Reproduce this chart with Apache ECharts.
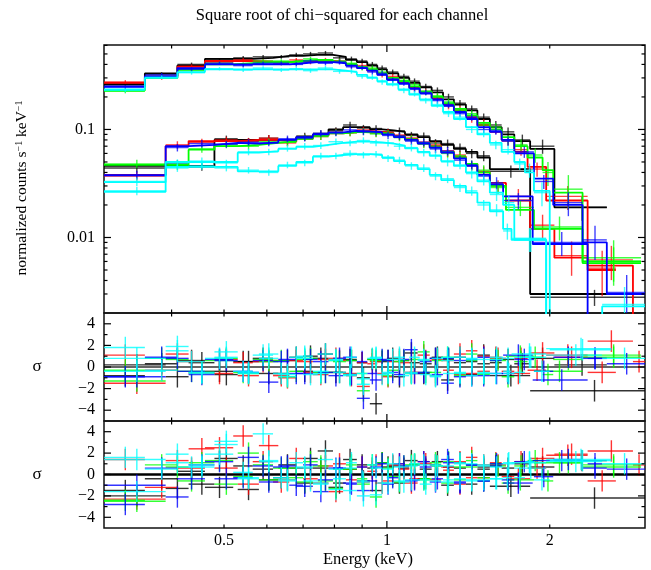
<!DOCTYPE html>
<html><head><meta charset="utf-8">
<script src="https://cdn.jsdelivr.net/npm/echarts@6/dist/echarts.min.js"></script>
<style>html,body{margin:0;padding:0;background:#fff}#c{width:651px;height:570px}</style>
</head><body><div id="c"></div>
<script>
// ---------- bin edges (keV) ----------
const EU = [0.30,0.357,0.41,0.461,0.52,0.565,0.616,0.66,0.70,0.745,0.795,0.84,0.88,0.92,0.96,1.0,1.05,1.10,1.15,1.21,1.27,1.33,1.40,1.47,1.55];
const EL = [0.30,0.39,0.43,0.48,0.53,0.58,0.63,0.68,0.73,0.78,0.83,0.88,0.93,0.98,1.03,1.08,1.14,1.20,1.26,1.33,1.40,1.47,1.55];
const relErrU  = [0.04,0.04,0.04,0.035,0.04,0.04,0.04,0.045,0.045,0.045,0.05,0.05,0.05,0.055,0.055,0.055,0.06,0.06,0.06,0.065,0.07,0.07,0.075,0.08];
const relErrUt = [0.09,0.1,0.12,0.15,0.25,0.35,0.45];
const relErrL  = [0.09,0.08,0.08,0.07,0.07,0.07,0.07,0.07,0.07,0.07,0.07,0.07,0.07,0.075,0.075,0.08,0.08,0.085,0.09,0.09,0.1,0.11];
const relErrLt = [0.13,0.17,0.25,0.35,0.45];

// ---------- upper spectra ----------
const blackU_tail  = [1.63,1.72,1.84,2.04,2.55];
const blackU_model = [0.26,0.33,0.39,0.45,0.45,0.46,0.48,0.48,0.49,0.49,0.47,0.44,0.42,0.39,0.36,0.33,0.30,0.27,0.245,0.22,0.19,0.17,0.15,0.125,0.105,0.09,0.078,0.066,0.019];
const blackU_data  = [0.265,0.325,0.40,0.44,0.46,0.47,0.47,0.49,0.50,0.51,0.46,0.45,0.43,0.40,0.37,0.34,0.31,0.28,0.25,0.23,0.20,0.175,0.155,0.13,0.11,0.095,0.08,0.07,0.019];
const blackU_resA  = [-0.8,0.3,0.6,-0.4,0.5,0.8,-0.6,0.9,1.0,1.2,-0.5,0.6,0.4,0.7,0.5,0.8,0.6,0.4,0.3,0.9,0.7,0.4,0.5,0.3,0.4,0.7,0.3,0.8,0.2];
const blackU_resB  = [-1.5,-0.4,0.3,-1.2,0.8,0.5,-0.3,0.6,1.5,2.2,-0.8,0.5,0.9,0.6,1.1,0.8,0.6,0.9,0.5,1.2,0.7,0.6,0.9,0.5,0.8,0.6,1.0,0.7,1.3];

const redU_tail  = [1.63,1.72,1.82,1.97,2.35,2.85,3.0];
const redU_model = [0.27,0.31,0.38,0.43,0.43,0.42,0.42,0.43,0.43,0.43,0.42,0.40,0.38,0.35,0.33,0.30,0.27,0.245,0.22,0.195,0.17,0.15,0.13,0.11,0.095,0.08,0.062,0.045,0.022,0.0055,0.001];
const redU_data  = [0.275,0.30,0.385,0.42,0.44,0.43,0.41,0.44,0.42,0.44,0.43,0.39,0.39,0.36,0.32,0.31,0.28,0.24,0.225,0.20,0.165,0.155,0.125,0.115,0.10,0.078,0.065,0.043,0.024,0.0062,0.0012];
const redU_resA  = [1.1,-0.3,0.5,-0.6,0.4,0.5,-0.8,0.6,-0.5,0.7,0.6,-0.8,0.4,0.3,-0.6,0.5,0.4,-0.5,0.6,0.7,-0.3,1.2,-0.6,1.0,0.9,-0.4,0.8,-0.3,1.1,2.4,0.5];
const redU_resB  = [1.4,-1.2,0.6,2.5,3.6,1.2,-0.7,1.5,-0.4,0.8,1.0,-0.5,0.7,0.3,-0.8,0.9,0.5,-0.4,1.0,0.8,0.4,1.2,-0.3,0.9,1.1,-0.2,1.2,0.6,1.8,2.2,0.9];

const greenU_tail  = [1.63,1.72,1.82,1.94,2.03,2.30,2.95];
const greenU_model = [0.23,0.30,0.36,0.40,0.41,0.42,0.42,0.43,0.44,0.44,0.42,0.40,0.38,0.36,0.33,0.30,0.28,0.25,0.225,0.20,0.175,0.155,0.135,0.115,0.10,0.085,0.07,0.055,0.042,0.026,0.006];
const greenU_data  = [0.225,0.31,0.35,0.41,0.40,0.43,0.43,0.42,0.45,0.43,0.43,0.41,0.37,0.37,0.34,0.29,0.285,0.26,0.22,0.205,0.18,0.15,0.14,0.11,0.105,0.08,0.072,0.058,0.04,0.028,0.0065];
const greenU_resA  = [-0.3,0.8,-0.4,0.6,-0.5,0.7,0.6,-0.4,0.8,-0.5,0.5,0.6,-0.6,0.7,0.6,-0.3,0.6,0.7,-0.5,0.6,0.8,-0.8,0.6,-0.6,0.7,-0.9,0.5,0.9,-0.7,0.7,1.1];
const greenU_resB  = [-2.4,0.9,-0.6,1.3,-0.2,0.9,0.6,-0.3,1.2,-0.6,0.5,0.9,-0.4,0.9,1.1,-0.2,0.8,1.0,-0.4,0.8,1.2,-0.5,0.7,-0.3,1.0,-0.8,0.8,1.3,-0.6,1.1,0.9];

const blueU_tail  = [1.63,1.72,1.87,2.03,2.3,2.55,3.0];
const blueU_model = [0.25,0.31,0.37,0.40,0.40,0.40,0.40,0.41,0.42,0.42,0.41,0.39,0.37,0.35,0.32,0.29,0.265,0.24,0.215,0.19,0.165,0.145,0.125,0.105,0.095,0.08,0.06,0.035,0.02,0.009,0.003];
const blueU_data  = [0.245,0.32,0.36,0.41,0.39,0.41,0.41,0.40,0.43,0.41,0.42,0.38,0.375,0.34,0.33,0.285,0.27,0.235,0.22,0.185,0.17,0.14,0.13,0.10,0.098,0.078,0.062,0.033,0.021,0.0095,0.0031];
const blueU_resA  = [-0.9,0.9,-0.4,0.7,-0.4,0.6,0.5,-0.6,0.7,-0.5,0.8,-0.7,0.5,-0.6,0.7,-0.5,0.7,-0.6,0.5,-0.7,0.8,-0.9,0.7,-0.8,0.6,-0.6,0.7,-0.4,0.9,0.8,0.3];
const blueU_resB  = [-2.8,0.6,-0.4,1.2,-0.3,0.8,0.7,-1.0,0.9,-0.5,0.6,-0.9,0.7,-0.6,1.0,-0.3,0.8,-0.5,0.7,-0.4,1.1,-0.7,0.9,-0.6,0.8,-0.5,1.2,-0.2,1.4,0.6,0.5];

const cyanU_tail  = [1.63,1.72,1.80,1.87,2.0,2.6];
const cyanU_model = [0.235,0.30,0.34,0.36,0.36,0.36,0.36,0.36,0.36,0.36,0.35,0.34,0.32,0.30,0.28,0.26,0.235,0.21,0.19,0.165,0.145,0.125,0.105,0.09,0.075,0.062,0.05,0.04,0.027,0.0012];
const cyanU_data  = [0.23,0.305,0.335,0.365,0.355,0.37,0.355,0.365,0.35,0.37,0.345,0.345,0.31,0.305,0.275,0.265,0.23,0.215,0.185,0.17,0.14,0.13,0.10,0.092,0.072,0.065,0.048,0.042,0.026,0.0013];
const cyanU_resA  = [1.8,-0.3,0.5,0.8,-0.4,1.1,-0.6,0.9,-0.7,1.2,-0.5,0.9,-0.6,0.8,-0.7,0.7,-0.8,0.9,-0.7,0.8,-0.6,0.9,-0.8,0.7,-0.6,0.8,-0.5,0.9,-0.4,1.6];
const cyanU_resB  = [1.6,0.5,0.7,1.9,0.2,3.8,-0.3,1.1,-0.6,1.4,-0.4,1.1,-0.6,0.9,-0.8,1.0,-0.7,1.0,-0.9,0.8,-0.5,1.1,-0.6,0.9,-0.4,1.0,-0.3,1.2,-0.5,1.3];

// ---------- lower spectra ----------
const blackL_tail  = [1.84,3.0];
const blackL_model = [0.046,0.046,0.046,0.08,0.08,0.08,0.08,0.085,0.09,0.10,0.105,0.105,0.10,0.098,0.095,0.09,0.085,0.078,0.072,0.066,0.062,0.055,0.043,0.003];
const blackL_data  = [0.044,0.048,0.045,0.082,0.078,0.083,0.079,0.087,0.092,0.098,0.11,0.103,0.102,0.095,0.097,0.088,0.087,0.075,0.074,0.068,0.06,0.057,0.041,0.0028];
const blackL_resA  = [0.2,-0.9,0.4,-0.7,0.5,-0.6,0.6,-0.4,0.8,-0.5,0.7,-1.0,-3.4,0.6,-0.9,1.3,-0.6,0.8,-1.2,0.9,-0.7,1.1,-0.8,-2.2];
const blackL_resB  = [-2.0,-1.3,-0.9,1.5,-1.4,-0.5,0.9,-0.8,0.6,-1.2,1.4,-0.6,-1.5,0.7,-0.8,1.3,-0.4,0.9,-1.0,1.1,-0.9,0.7,-1.1,-2.2];

const redL_tail  = [1.66,1.84,2.04,2.35,2.65];
const redL_model = [0.038,0.07,0.078,0.078,0.08,0.08,0.077,0.082,0.088,0.092,0.095,0.097,0.095,0.092,0.088,0.082,0.076,0.07,0.063,0.056,0.048,0.04,0.032,0.022,0.012,0.0065,0.005];
const redL_data  = [0.037,0.072,0.076,0.08,0.078,0.083,0.075,0.084,0.086,0.095,0.093,0.099,0.092,0.094,0.086,0.083,0.074,0.072,0.061,0.058,0.046,0.041,0.03,0.024,0.013,0.0068,0.0052];
const redL_resA  = [-1.5,1.2,-0.6,0.7,-0.8,0.6,-1.0,0.5,-0.7,0.8,-0.6,-1.8,0.5,-0.9,0.7,-0.5,1.1,-0.8,0.6,-0.7,1.5,-0.4,0.8,-0.6,1.3,0.9,-0.5];
const redL_resB  = [-2.3,1.3,2.4,0.6,-0.9,2.7,-0.5,0.6,-0.8,-1.6,0.5,-0.7,0.9,-0.6,1.0,-0.8,1.2,-0.5,0.7,-0.9,1.6,-0.3,0.9,-0.4,1.5,1.9,-0.6];

const greenL_tail  = [1.66,1.87,2.3,2.95];
const greenL_model = [0.047,0.047,0.065,0.07,0.072,0.075,0.078,0.082,0.088,0.092,0.095,0.094,0.093,0.09,0.086,0.08,0.075,0.068,0.062,0.055,0.048,0.04,0.03,0.018,0.012,0.0058];
const greenL_data  = [0.048,0.046,0.066,0.072,0.07,0.077,0.076,0.084,0.086,0.094,0.093,0.096,0.091,0.092,0.084,0.082,0.073,0.07,0.06,0.057,0.047,0.042,0.029,0.019,0.0125,0.006];
const greenL_resA  = [-1.3,0.7,-0.5,0.8,-0.6,0.5,-0.9,0.7,-0.5,0.6,-0.7,-2.2,0.6,-0.8,0.5,-0.6,1.4,-0.5,0.9,-0.6,1.2,-0.7,0.6,1.0,-0.4,0.9];
const greenL_resB  = [-2.5,0.7,1.1,-0.9,2.0,-0.5,0.6,-0.7,0.8,-1.3,0.5,-0.9,-2.1,0.6,-0.7,0.9,-0.5,1.1,-0.8,0.7,1.3,-0.6,0.8,-0.5,1.1,0.7];

const blueL_tail  = [1.64,1.86,2.35,2.5];
const blueL_model = [0.0375,0.07,0.072,0.075,0.074,0.076,0.08,0.085,0.09,0.094,0.097,0.096,0.094,0.09,0.085,0.08,0.074,0.068,0.061,0.054,0.046,0.038,0.031,0.024,0.0087,0.0012];
const blueL_data  = [0.038,0.068,0.074,0.073,0.076,0.075,0.082,0.083,0.092,0.093,0.099,0.095,0.095,0.088,0.087,0.078,0.076,0.066,0.063,0.052,0.047,0.037,0.032,0.022,0.009,0.0013];
const blueL_resA  = [-0.9,0.8,-0.7,0.6,-0.5,-1.4,0.7,-0.6,0.5,-0.8,0.9,-2.9,-1.2,0.6,-0.7,1.6,-0.5,0.8,-1.5,0.6,-0.8,0.9,-0.6,1.1,-1.2,0.8];
const blueL_resB  = [-1.0,-2.1,0.9,-0.4,1.6,-0.7,0.8,-1.1,-1.6,0.6,-0.8,-1.5,0.7,-0.9,1.0,-0.6,1.2,-0.7,1.4,-0.8,0.9,-0.6,1.0,-0.8,1.3,1.0];

const cyan1L_tail  = [1.64,1.72,1.97,2.5,3.0];
const cyan1L_model = [0.0325,0.05,0.05,0.05,0.061,0.063,0.066,0.069,0.072,0.075,0.077,0.077,0.076,0.074,0.071,0.067,0.062,0.057,0.051,0.046,0.04,0.033,0.026,0.02,0.0095,0.0012,0.0023];
const cyan1L_data  = [0.033,0.049,0.051,0.049,0.062,0.062,0.067,0.07,0.071,0.077,0.075,0.079,0.075,0.075,0.07,0.068,0.061,0.058,0.05,0.047,0.039,0.034,0.025,0.021,0.0098,0.0013,0.0024];
const cyan1L_resA  = [0.8,1.5,-0.6,0.9,-0.5,1.2,-0.7,0.8,-0.6,0.7,-0.8,-1.1,0.9,-0.6,0.7,-0.5,0.6,-0.8,0.9,-0.6,0.8,-0.5,0.7,-0.6,0.9,1.1,0.8];
const cyan1L_resB  = [1.4,1.9,0.7,2.8,-0.3,1.3,-0.6,0.7,-0.8,-1.4,0.6,-0.7,-1.9,0.5,-0.6,0.8,-0.5,0.9,-0.7,1.0,-0.5,0.8,-0.4,1.1,0.6,1.2,1.0];

const cyan2L_tail  = [1.64,1.70,1.97,2.6];
const cyan2L_model = [0.0265,0.045,0.045,0.045,0.041,0.041,0.046,0.05,0.056,0.058,0.059,0.059,0.058,0.055,0.051,0.047,0.043,0.038,0.034,0.03,0.026,0.021,0.0175,0.012,0.0095,0.0012];
const cyan2L_data  = [0.027,0.044,0.046,0.044,0.042,0.04,0.047,0.049,0.057,0.057,0.06,0.058,0.059,0.054,0.052,0.046,0.044,0.037,0.035,0.029,0.027,0.02,0.018,0.0115,0.0098,0.0013];
const cyan2L_resA  = [-0.4,1.9,-0.5,1.4,-0.6,0.8,-0.9,1.0,-0.4,0.6,-0.7,-1.6,0.8,-0.5,0.9,-0.6,0.7,-0.9,0.6,-0.5,0.7,-0.6,0.9,-0.4,1.2,1.7];
const cyan2L_resB  = [-1.6,1.1,0.9,3.1,-0.4,1.2,-0.5,0.6,-0.9,0.5,-1.5,-2.0,0.6,-0.8,0.7,-0.5,0.9,-0.6,0.8,-0.4,1.0,-0.5,0.7,-0.3,1.1,1.4];

// ---------- ticks ----------
const xMinorTicks = [0.4,0.5,0.6,0.7,0.8,0.9,2];
const xMajorTicks = [1];
const xTickLabels = [[0.5,'0.5'],[1,'1'],[2,'2']];
const yTopMinor = [0.003,0.004,0.005,0.006,0.007,0.008,0.009,0.02,0.03,0.04,0.05,0.06,0.07,0.08,0.09,0.2,0.3,0.4,0.5,0.6];
const yTopMajor = [0.01,0.1];
const yTopLabels = [[0.01,'0.01'],[0.1,'0.1']];
const yResMinor = [-3,-1,1,3];
const yResMajor = [-4,-2,0,2,4];
const yResLabels = [[-4,'\u22124'],[-2,'\u22122'],[0,'0'],[2,'2'],[4,'4']];

// ---------- assemble ----------
const C = {k:'#000000', r:'#ff0000', g:'#00ff00', b:'#0000ff', c:'#00ffff'};
const spectra = [
  [C.k, EU, blackU_tail, blackU_model, blackU_data, blackU_resA, blackU_resB, relErrU, relErrUt],
  [C.k, EL, blackL_tail, blackL_model, blackL_data, blackL_resA, blackL_resB, relErrL, relErrLt],
  [C.r, EU, redU_tail, redU_model, redU_data, redU_resA, redU_resB, relErrU, relErrUt],
  [C.r, EL, redL_tail, redL_model, redL_data, redL_resA, redL_resB, relErrL, relErrLt],
  [C.g, EU, greenU_tail, greenU_model, greenU_data, greenU_resA, greenU_resB, relErrU, relErrUt],
  [C.g, EL, greenL_tail, greenL_model, greenL_data, greenL_resA, greenL_resB, relErrL, relErrLt],
  [C.b, EU, blueU_tail, blueU_model, blueU_data, blueU_resA, blueU_resB, relErrU, relErrUt],
  [C.b, EL, blueL_tail, blueL_model, blueL_data, blueL_resA, blueL_resB, relErrL, relErrLt],
  [C.c, EU, cyanU_tail, cyanU_model, cyanU_data, cyanU_resA, cyanU_resB, relErrU, relErrUt],
  [C.c, EL, cyan1L_tail, cyan1L_model, cyan1L_data, cyan1L_resA, cyan1L_resB, relErrL, relErrLt],
  [C.c, EL, cyan2L_tail, cyan2L_model, cyan2L_data, cyan2L_resA, cyan2L_resB, relErrL, relErrLt]
];

const FONT = '"Liberation Serif","Times New Roman",serif';

function crossSeries(gi, items, color, width, opacity, z) {
  return {
    type:'custom', xAxisIndex:gi, yAxisIndex:gi, clip:true, silent:true, z:z,
    data: items, encode:{x:2, y:3},
    renderItem(params, api) {
      const lo=api.value(0), hi=api.value(1), xc=api.value(2), y=api.value(3), ylo=api.value(4), yhi=api.value(5);
      const a=api.coord([lo,y]), b=api.coord([hi,y]), c=api.coord([xc,ylo]), d=api.coord([xc,yhi]);
      const st={stroke:color, lineWidth:width, opacity:opacity};
      return {type:'group', children:[
        {type:'line', shape:{x1:a[0],y1:a[1],x2:b[0],y2:b[1]}, style:st},
        {type:'line', shape:{x1:c[0],y1:c[1],x2:d[0],y2:d[1]}, style:st}
      ]};
    }
  };
}

const series = [];
let z = 2;
spectra.forEach(sp => {
  const [color, base, tail, model, data, rA, rB, eC, eT] = sp;
  const edges = base.concat(tail);
  const err = eC.concat(eT);
  const n = Math.min(model.length, edges.length-1);
  const top = [], resA = [], resB = [];
  for (let i=0;i<n;i++){
    const lo=edges[i], hi=edges[i+1], xc=(lo+hi)/2;
    const v=data[i], e=v*err[i];
    top.push([lo,hi,xc,v,v-e,v+e]);
    resA.push([lo,hi,xc,rA[i],rA[i]-1,rA[i]+1]);
    resB.push([lo,hi,xc,rB[i],rB[i]-1,rB[i]+1]);
  }
  series.push(crossSeries(0, top, color, 1.4, 0.75, z));
  series.push(crossSeries(1, resA, color, 1.4, 0.8, z));
  series.push(crossSeries(2, resB, color, 1.4, 0.8, z));
  const step = edges.slice(0,n+1).map((e,i)=>[e, model[Math.min(i,n-1)]]);
  series.push({type:'line', xAxisIndex:0, yAxisIndex:0, step:'end', data:step, symbol:'none',
    clip:true, silent:true, z:z+1, lineStyle:{color:color, width:1.8}});
  z += 2;
});

// zero lines in residual panels
series.push({type:'line', xAxisIndex:1, yAxisIndex:1, data:[], symbol:'none', z:1,
  markLine:{silent:true, symbol:'none', label:{show:false}, lineStyle:{color:'#333', width:1.5, type:'solid'}, data:[{yAxis:0}]}});
series.push({type:'line', xAxisIndex:2, yAxisIndex:2, data:[], symbol:'none', z:60,
  markLine:{silent:true, symbol:'none', label:{show:false}, lineStyle:{color:'#000', width:2.5, type:'solid'}, data:[{yAxis:0}]}});

// axis decorations (inward ticks on all sides, labels)
function decor(gi, yRef, xLabels, yMinor, yMajor, yLabels) {
  const items = [];
  xMinorTicks.forEach(v=>items.push({a:'x', v, len:3.5}));
  xMajorTicks.forEach(v=>items.push({a:'x', v, len:7}));
  if (xLabels) xLabels.forEach(([v,t])=>items.push({a:'xl', v, t}));
  yMinor.forEach(v=>items.push({a:'y', v, len:3.5}));
  yMajor.forEach(v=>items.push({a:'y', v, len:7}));
  yLabels.forEach(([v,t])=>items.push({a:'yl', v, t}));
  return {
    type:'custom', xAxisIndex:gi, yAxisIndex:gi, silent:true, z:100, clip:false,
    data: items.map((t,i)=>[1, yRef, i]), encode:{x:0, y:1},
    renderItem(params, api) {
      const t = items[api.value(2)];
      const cs = params.coordSys;
      const st = {stroke:'#000', lineWidth:1.2};
      if (t.a==='x') {
        const px = api.coord([t.v, yRef])[0];
        return {type:'group', children:[
          {type:'line', shape:{x1:px,y1:cs.y,x2:px,y2:cs.y+t.len}, style:st},
          {type:'line', shape:{x1:px,y1:cs.y+cs.height,x2:px,y2:cs.y+cs.height-t.len}, style:st}]};
      }
      if (t.a==='y') {
        const py = api.coord([1, t.v])[1];
        return {type:'group', children:[
          {type:'line', shape:{x1:cs.x,y1:py,x2:cs.x+t.len,y2:py}, style:st},
          {type:'line', shape:{x1:cs.x+cs.width,y1:py,x2:cs.x+cs.width-t.len,y2:py}, style:st}]};
      }
      if (t.a==='xl') {
        const px = api.coord([t.v, yRef])[0];
        return {type:'text', x:px, y:cs.y+cs.height+5, style:{text:t.t, fill:'#000', fontSize:16, fontFamily:FONT, align:'center', verticalAlign:'top'}};
      }
      const py = api.coord([1, t.v])[1];
      return {type:'text', x:cs.x-9, y:py, style:{text:t.t, fill:'#000', fontSize:16, fontFamily:FONT, align:'right', verticalAlign:'middle'}};
    }
  };
}
series.push(decor(0, 0.1, null, yTopMinor, yTopMajor, yTopLabels));
series.push(decor(1, 0, null, yResMinor, yResMajor, yResLabels));
series.push(decor(2, 0, xTickLabels, yResMinor, yResMajor, yResLabels));

const gridCommon = {left:104, width:541, show:true, borderColor:'#111', borderWidth:1.5, backgroundColor:'transparent'};
const hidden = {axisLine:{show:false}, axisTick:{show:false}, axisLabel:{show:false}, splitLine:{show:false}};

const option = {
  animation:false,
  backgroundColor:'#fff',
  grid:[
    Object.assign({top:45, height:268}, gridCommon),
    Object.assign({top:313, height:108}, gridCommon),
    Object.assign({top:421, height:107}, gridCommon)
  ],
  xAxis:[0,1,2].map(i=>Object.assign({type:'log', logBase:10, gridIndex:i, min:0.3, max:3.0}, hidden)),
  yAxis:[
    Object.assign({type:'log', logBase:10, gridIndex:0, min:0.002, max:0.605}, hidden),
    Object.assign({type:'value', gridIndex:1, min:-5, max:5}, hidden),
    Object.assign({type:'value', gridIndex:2, min:-5, max:5}, hidden)
  ],
  graphic:[
    {type:'text', x:342, y:16, style:{text:'Square root of chi\u2212squared for each channel', fill:'#000', fontSize:16.5, fontFamily:FONT, align:'center', verticalAlign:'middle'}},
    {type:'text', x:368, y:560, style:{text:'Energy (keV)', fill:'#000', fontSize:16.5, fontFamily:FONT, align:'center', verticalAlign:'middle'}},
    {type:'text', x:22, y:188, rotation:Math.PI/2, style:{
      text:'{n|normalized counts s}{s|\u22121}{n| keV}{s|\u22121}', align:'center', verticalAlign:'middle',
      rich:{n:{fontSize:15.5, fontFamily:FONT, fill:'#000'}, s:{fontSize:10, fontFamily:FONT, fill:'#000', verticalAlign:'top'}}}},
    {type:'text', x:37, y:367, style:{text:'\u03c3', fill:'#000', fontSize:17, fontFamily:FONT, align:'center', verticalAlign:'middle'}},
    {type:'text', x:37, y:475, style:{text:'\u03c3', fill:'#000', fontSize:17, fontFamily:FONT, align:'center', verticalAlign:'middle'}}
  ],
  series: series
};

const chart = echarts.init(document.getElementById('c'), null, {renderer:'canvas'});
chart.setOption(option);
</script>
</body></html>
